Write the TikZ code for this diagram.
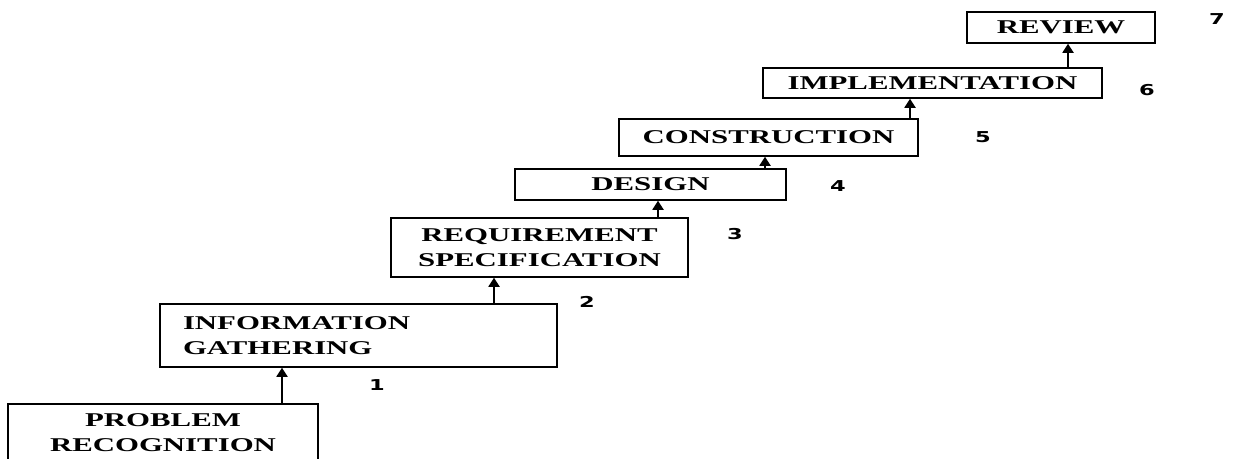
\documentclass[tikz,border=0pt]{standalone}
\usepackage{fontspec}
\usetikzlibrary{arrows.meta}
\newfontfamily\boxfont[FakeStretch=1.58]{Liberation Serif}
\newfontfamily\numfont[FakeStretch=1.5]{DejaVu Sans}
\begin{document}
\begin{tikzpicture}[x=1pt,y=-1pt,
  stage/.style={draw=black,line width=1.5pt,inner sep=0pt,align=center,
    font=\boxfont\bfseries\fontsize{19.5}{25}\selectfont},
  arr/.style={line width=1.8pt,-{Triangle[width=11pt,length=9pt]}},
  num/.style={font=\numfont\bfseries\fontsize{15}{17}\selectfont,inner sep=0pt}]
\useasboundingbox (0,0) rectangle (1233,458);
\node[stage,minimum width=310pt,minimum height=58pt] (pr) at (163,433) {PROBLEM\\RECOGNITION};
\node[stage,minimum width=397pt,minimum height=63pt,text width=351pt,align=left] (ig) at (358.5,335.5) {INFORMATION\\GATHERING};
\node[stage,minimum width=297pt,minimum height=59pt] (rs) at (539.5,247.5) {REQUIREMENT\\SPECIFICATION};
\node[stage,minimum width=271pt,minimum height=31pt] (de) at (650.5,184.5) {DESIGN};
\node[stage,minimum width=299pt,minimum height=37pt] (co) at (768.5,137.5) {CONSTRUCTION};
\node[stage,minimum width=339pt,minimum height=30pt] (im) at (932.5,83) {IMPLEMENTATION};
\node[stage,minimum width=188pt,minimum height=31pt] (re) at (1061,27.5) {REVIEW};
\draw[arr] (282,0 |- pr.north) -- (282,0 |- ig.south);
\draw[arr] (494,0 |- ig.north) -- (494,0 |- rs.south);
\draw[arr] (658,0 |- rs.north) -- (658,0 |- de.south);
\draw[arr] (765,0 |- de.north) -- (765,0 |- co.south);
\draw[arr] (910,0 |- co.north) -- (910,0 |- im.south);
\draw[arr] (1068,0 |- im.north) -- (1068,0 |- re.south);
\node[num] (n1) at (377,385) {1};
\node[num] (n2) at (587,302) {2};
\node[num] (n3) at (735,234) {3};
\node[num] (n4) at (838,186) {4};
\node[num] (n5) at (983,137) {5};
\node[num] (n6) at (1147,90) {6};
\node[num] (n7) at (1217,19) {7};
\end{tikzpicture}
\end{document}
